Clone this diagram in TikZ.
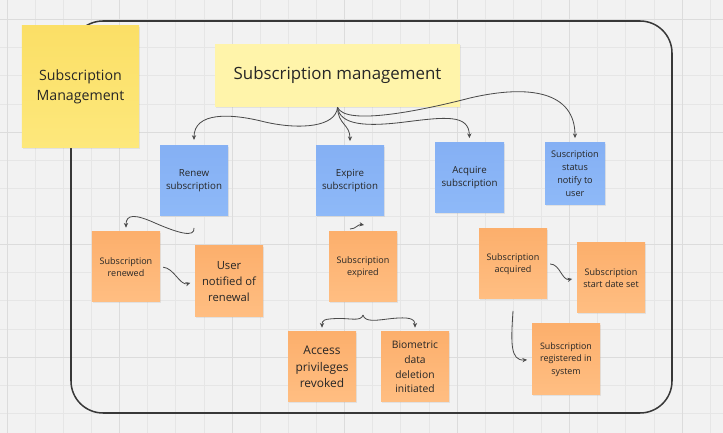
\documentclass[tikz,border=0pt]{standalone}
\usepackage{fontspec}
\setmainfont{Open Sans}
\usetikzlibrary{arrows.meta,shadows}
\definecolor{canvas}{HTML}{F2F2F2}
\definecolor{gridminor}{HTML}{E6E6E6}
\definecolor{gridmajor}{HTML}{DCDCDC}
\definecolor{framegray}{HTML}{383838}
\definecolor{linkgray}{HTML}{4A4A4A}
\definecolor{inkdark}{HTML}{262626}
\definecolor{blueA}{HTML}{85B0F4}
\definecolor{blueB}{HTML}{8EB9F8}
\definecolor{orangeA}{HTML}{FCAF6C}
\definecolor{orangeB}{HTML}{FFBE82}
\definecolor{yellowA}{HTML}{FBDF66}
\definecolor{yellowB}{HTML}{FDE87C}
\definecolor{paleyellow}{HTML}{FFF4AA}

\begin{document}
\begin{tikzpicture}[x=0.03cm,y=-0.03cm,
  note/.style={align=center,inner sep=1pt,text=inkdark,
    drop shadow={shadow xshift=0.6pt,shadow yshift=-1.2pt,opacity=0.14}},
  bluenote/.style={note,top color=blueA,bottom color=blueB,
    minimum width=2.04cm,minimum height=2.1cm,font=\fontsize{8.3}{11.2}\selectfont},
  orangenote/.style={note,top color=orangeA,bottom color=orangeB,
    minimum width=2.04cm,minimum height=2.1cm,font=\fontsize{7.7}{10.5}\selectfont},
  link/.style={draw=linkgray,line width=0.7pt,-{Stealth[length=4pt,width=3.6pt]}},
  gridline/.style={draw=gridminor,line width=0.5pt},
  gridbold/.style={draw=gridmajor,line width=0.7pt}]

% canvas and grid
\useasboundingbox (0,0) rectangle (723,433);
\fill[canvas] (0,0) rectangle (723,433);
\foreach \k in {0,...,25} {
  \pgfmathsetmacro\gx{7+28.125*\k}
  \draw[gridline] (\gx,0) -- (\gx,433);
}
\foreach \k in {0,...,15} {
  \pgfmathsetmacro\gy{19.5+28.125*\k}
  \draw[gridline] (0,\gy) -- (723,\gy);
}
\foreach \k in {0,4,...,24} {
  \pgfmathsetmacro\gx{7+28.125*\k}
  \draw[gridbold] (\gx,0) -- (\gx,433);
}
\foreach \k in {0,4,8,12} {
  \pgfmathsetmacro\gy{19.5+28.125*\k}
  \draw[gridbold] (0,\gy) -- (723,\gy);
}

% frame
\draw[framegray,line width=1.3pt,rounded corners=0.96cm] (71,21) rectangle (672,413);

% sticky notes
\node[note,top color=yellowA,bottom color=yellowB,minimum width=3.51cm,minimum height=3.66cm,
  font=\fontsize{12.1}{16.8}\selectfont] (title) at (80.5,87) {Subscription\\Management};
\node[note,fill=paleyellow,drop shadow={opacity=0},minimum width=7.35cm,minimum height=1.89cm,
  font=\fontsize{14.4}{18}\selectfont] (mainnote) at (337.5,75.5) {Subscription management};

\node[bluenote] (renew) at (194,181) {Renew\\subscription};
\node[bluenote] (expire) at (350,181) {Expire\\subscription};
\node[bluenote,minimum width=2.07cm] (acquire) at (469.5,178) {Acquire\\subscription};
\node[bluenote,minimum width=1.8cm,minimum height=1.86cm,font=\fontsize{7.8}{11}\selectfont]
  (status) at (575,174) {Suscription\\status\\notify to\\user};

\node[orangenote] (renewed) at (126,267) {Subscription\\renewed};
\node[orangenote,minimum height=2.13cm,font=\fontsize{9.6}{13.3}\selectfont]
  (notified) at (229,281.5) {User\\notified of\\renewal};
\node[orangenote] (expired) at (363,267) {Subscription\\expired};
\node[orangenote,font=\fontsize{10.2}{13.9}\selectfont] (access) at (322,367) {Access\\privileges\\revoked};
\node[orangenote,font=\fontsize{8.8}{12.6}\selectfont] (biometric) at (415,367) {Biometric\\data\\deletion\\initiated};
\node[orangenote,font=\fontsize{7.7}{10.6}\selectfont] (acquired) at (513,264) {Subscription\\acquired};
\node[orangenote,font=\fontsize{7.7}{10.6}\selectfont] (startdate) at (611,278) {Subscription\\start date set};
\node[orangenote,minimum height=2.13cm,font=\fontsize{7.6}{10.5}\selectfont]
  (registered) at (566,359.5) {Subscription\\registered in\\system};

% free ends
\coordinate (renewtail) at (194,228);
\coordinate (expiretail) at (350,229);
\coordinate (expirehead) at (364,225);
\coordinate (expiredsplit) at (363,315);
\coordinate (acquiredtail) at (513,311);

% connectors
\draw[link,shorten >=5pt] (mainnote.south) .. controls (336,127) and (300,130) .. (265,122)
  .. controls (230,113) and (194,112) .. (renew.north);
\draw[link,shorten >=4pt] (mainnote.south) .. controls (338,125) and (350,124) .. (expire.north);
\draw[link,shorten >=4pt] (mainnote.south) .. controls (340,125) and (365,127) .. (405,122)
  .. controls (445,117) and (469,114) .. (acquire.north);
\draw[link,shorten >=4pt] (mainnote.south) .. controls (345,126) and (420,111) .. (470,98)
  .. controls (530,84) and (575,92) .. (status.north);

\draw[link,shorten >=3.5pt] (renewtail) .. controls (195,238) and (178,233) .. (155,223)
  .. controls (135,214) and (126,214) .. (renewed.north);
\draw[link,shorten <=2.5pt,shorten >=4pt] (renewed.east) .. controls (174,268) and (180,286) .. (notified.west);

\draw[link] (expiretail) .. controls (356,229) and (358,224) .. (expirehead);
\draw[link,shorten >=3.5pt] (expiredsplit) .. controls (361,322) and (350,318) .. (337,318.5)
  .. controls (324,319) and (322,320) .. (access.north);
\draw[link,shorten >=3.5pt] (expiredsplit) .. controls (365,323) and (378,320) .. (392,318.5)
  .. controls (408,317) and (415,318) .. (biometric.north);

\draw[link,shorten <=2.5pt,shorten >=4pt] (acquired.east) .. controls (560,264) and (562,281) .. (startdate.west);
\draw[link,shorten >=4pt] (acquiredtail) .. controls (511,342) and (510,361) .. (registered.west);
\end{tikzpicture}
\end{document}
